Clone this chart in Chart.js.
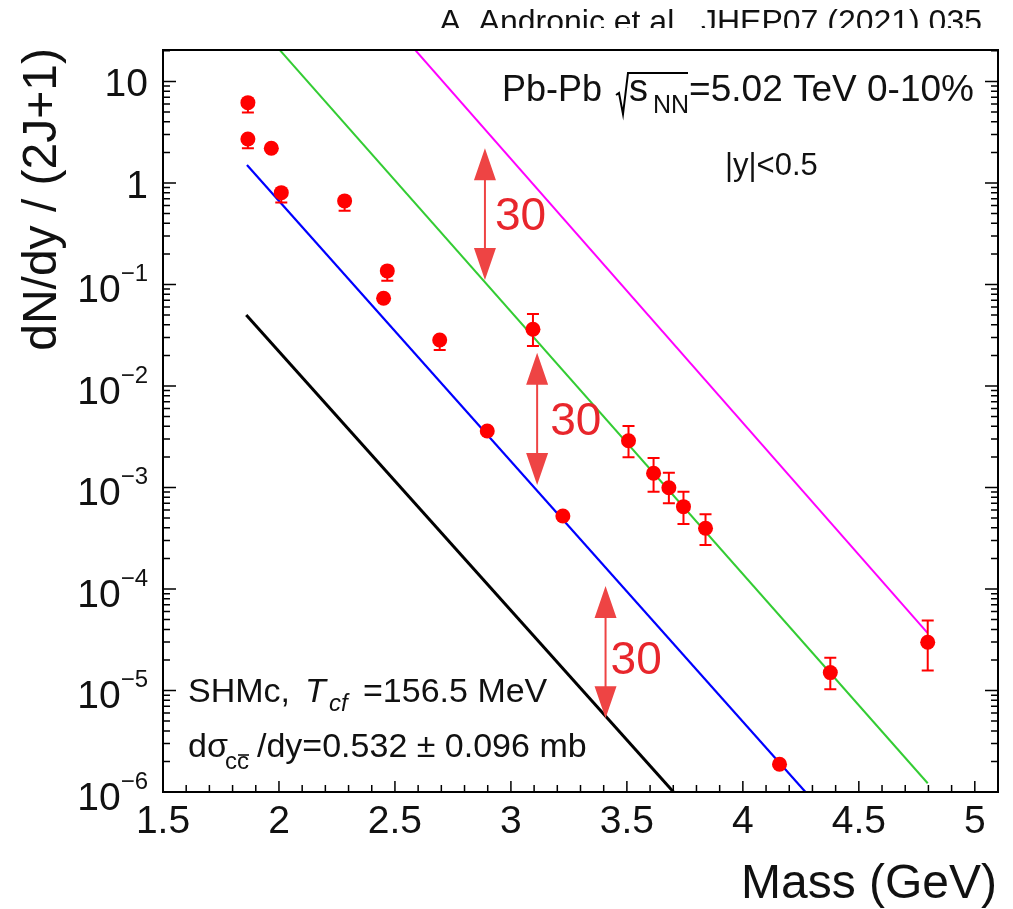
<!DOCTYPE html>
<html>
<head>
<meta charset="utf-8">
<title>Charm hadron yields, Pb-Pb 5.02 TeV</title>
<script src="https://cdn.jsdelivr.net/npm/chart.js@4/dist/chart.umd.min.js"></script>
<style>
  html, body { margin: 0; padding: 0; background: #fff; }
  canvas { display: block; }
</style>
</head>
<body>
<canvas id="yieldChart" width="1013" height="909"></canvas>
<script>
// measured yields per spin state, Pb-Pb 0-10%, |y|<0.5
const hadronMass  = [1.866, 1.866, 1.967, 2.010, 2.283, 2.467, 2.451, 2.693, 3.095, 2.898,
                     3.224, 3.507, 3.615, 3.681, 3.744, 3.839, 4.158, 4.377, 4.797];
const hadronYield = [6.18, 2.71, 2.20, 0.802, 0.665, 0.136, 0.0731, 0.0284, 0.0362, 0.00360,
                     5.24e-4, 2.89e-3, 1.38e-3, 9.95e-4, 6.47e-4, 3.96e-4, 1.875e-6, 1.50e-5, 2.99e-5];
const yieldLow    = [4.93, 2.20, null, 0.640, 0.533, 0.109, null, 0.0226, 0.0248, null,
                     null, 1.99e-3, 9.1e-4, 6.98e-4, 4.37e-4, 2.71e-4, null, 1.03e-5, 1.57e-5];
const yieldHigh   = [6.18, 2.71, null, 0.802, 0.665, 0.136, null, 0.0284, 0.0512, null,
                     null, 4.04e-3, 1.95e-3, 1.40e-3, 9.1e-4, 5.45e-4, null, 2.10e-5, 4.88e-5];

// SHMc curves, straight lines in log scale (start / end)
const blackMass = [1.859, 3.701];
const blackYield = [0.0501, 1.0e-6];
const blueMass = [1.862, 4.270];
const blueYield = [1.50, 1.0e-6];
const greenMass = [1.860, 4.797];
const greenYield = [47.9, 1.22e-6];
const magentaMass = [2.550, 4.795];
const magentaYield = [25.5, 3.72e-5];

// factor 30 arrows between the curves
const arrowMass = [2.888, 3.113, 3.408];
const arrowTop = [2.20, 0.0213, 1.07e-4];
const arrowBottom = [0.1106, 1.06e-3, 5.32e-6];
const arrowText = ['30', '30', '30'];

// axis ticks and labels
const xTicks = [1.5, 2, 2.5, 3, 3.5, 4, 4.5, 5];
const xTickLabels = ['1.5', '2', '2.5', '3', '3.5', '4', '4.5', '5'];
const yTicks = [1e-6, 1e-5, 1e-4, 1e-3, 1e-2, 1e-1, 1, 10];
const yTickBase = ['10', '10', '10', '10', '10', '10', '1', '10'];
const yTickSup = ['\u22126', '\u22125', '\u22124', '\u22123', '\u22122', '\u22121', '', ''];

const FONT = '"Liberation Sans", Arial, Helvetica, sans-serif';

function toPoints(xs, ys) {
  return xs.map(function (x, i) { return { x: x, y: ys[i] }; });
}

function curve(label, xs, ys, color, width) {
  return {
    label: label,
    data: toPoints(xs, ys),
    showLine: true,
    borderColor: color,
    borderWidth: width,
    pointRadius: 0,
    fill: false,
  };
}

// error bars under the markers
const errorBars = {
  id: 'errorBars',
  beforeDatasetDraw(chart, args) {
    if (args.index !== 0) return;
    const ctx = chart.ctx;
    const y = chart.scales.y;
    const meta = chart.getDatasetMeta(0);
    ctx.save();
    ctx.strokeStyle = '#ff0000';
    ctx.lineWidth = 2;
    meta.data.forEach(function (pt, i) {
      if (yieldLow[i] == null) return;
      const y0 = y.getPixelForValue(yieldLow[i]);
      const y1 = y.getPixelForValue(yieldHigh[i]);
      ctx.beginPath();
      ctx.moveTo(pt.x, y0); ctx.lineTo(pt.x, y1);
      ctx.moveTo(pt.x - 6, y0); ctx.lineTo(pt.x + 6, y0);
      ctx.moveTo(pt.x - 6, y1); ctx.lineTo(pt.x + 6, y1);
      ctx.stroke();
    });
    ctx.restore();
  }
};

// ROOT style frame, inner ticks, labels and annotations
const decorations = {
  id: 'decorations',
  afterDraw(chart) {
    const ctx = chart.ctx;
    const a = chart.chartArea;
    const x = chart.scales.x;
    const y = chart.scales.y;
    ctx.save();

    // arrows
    const textShift = [[10, 16], [13, 16], [5, 22]];
    arrowMass.forEach(function (m, i) {
      const px = x.getPixelForValue(m);
      const yt = y.getPixelForValue(arrowTop[i]);
      const yb = y.getPixelForValue(arrowBottom[i]);
      ctx.strokeStyle = '#ee4444';
      ctx.fillStyle = '#ee4444';
      ctx.lineWidth = 2;
      ctx.beginPath();
      ctx.moveTo(px, yt + 30); ctx.lineTo(px, yb - 30);
      ctx.stroke();
      ctx.beginPath();
      ctx.moveTo(px, yt); ctx.lineTo(px - 11, yt + 32); ctx.lineTo(px + 11, yt + 32); ctx.closePath();
      ctx.moveTo(px, yb); ctx.lineTo(px - 11, yb - 32); ctx.lineTo(px + 11, yb - 32); ctx.closePath();
      ctx.fill();
      ctx.fillStyle = '#e8262c';
      ctx.font = '46px ' + FONT;
      ctx.textAlign = 'left';
      ctx.textBaseline = 'alphabetic';
      ctx.fillText(arrowText[i], px + textShift[i][0], (yt + yb) / 2 + textShift[i][1]);
    });

    // frame
    ctx.strokeStyle = '#000';
    ctx.lineWidth = 2;
    ctx.strokeRect(a.left, a.top, a.right - a.left, a.bottom - a.top);

    // ticks
    ctx.lineWidth = 1.5;
    ctx.beginPath();
    for (let k = 15; k <= 51; k++) {
      const px = x.getPixelForValue(k / 10);
      const len = k % 5 === 0 ? 11 : 7;
      ctx.moveTo(px, a.bottom); ctx.lineTo(px, a.bottom - len);
    }
    yTicks.forEach(function (d) {
      for (let k = 1; k <= 9; k++) {
        const v = d * k;
        if (v > y.max) break;
        const py = y.getPixelForValue(v);
        const len = k === 1 ? 13 : 7;
        ctx.moveTo(a.left, py); ctx.lineTo(a.left + len, py);
        ctx.moveTo(a.right, py); ctx.lineTo(a.right - len, py);
      }
    });
    ctx.stroke();

    ctx.fillStyle = '#111';
    ctx.textBaseline = 'alphabetic';

    // x tick labels
    ctx.font = '39px ' + FONT;
    ctx.textAlign = 'center';
    xTicks.forEach(function (v, i) {
      ctx.fillText(xTickLabels[i], x.getPixelForValue(v), 833);
    });

    // y tick labels
    const labelRight = a.left - 15;
    yTicks.forEach(function (v, i) {
      const py = y.getPixelForValue(v);
      if (yTickSup[i]) {
        ctx.font = '24px ' + FONT;
        const supW = ctx.measureText(yTickSup[i]).width;
        ctx.textAlign = 'left';
        ctx.fillText(yTickSup[i], labelRight - supW, py - 3);
        ctx.font = '39px ' + FONT;
        ctx.textAlign = 'right';
        ctx.fillText(yTickBase[i], labelRight - supW, py + 18);
      } else {
        ctx.font = '39px ' + FONT;
        ctx.textAlign = 'right';
        ctx.fillText(yTickBase[i], labelRight, py + 15);
      }
    });

    // axis titles
    ctx.font = '48px ' + FONT;
    ctx.textAlign = 'right';
    ctx.fillText('Mass (GeV)', 997, 898);
    ctx.save();
    ctx.translate(56, 48);
    ctx.rotate(-Math.PI / 2);
    ctx.font = '48px ' + FONT;
    ctx.textAlign = 'right';
    ctx.fillText('dN/dy / (2J+1)', 0, 0);
    ctx.restore();

    // reference line, cut at the top of the page
    ctx.save();
    ctx.beginPath();
    ctx.rect(0, 0, chart.width, 28);
    ctx.clip();
    ctx.font = '32px ' + FONT;
    ctx.textAlign = 'right';
    ctx.fillText('A. Andronic et al.. JHEP07 (2021) 035', 982, 32);
    ctx.restore();

    // collision system
    ctx.font = '36px ' + FONT;
    ctx.textAlign = 'left';
    ctx.fillText('Pb-Pb', 502, 101);
    ctx.lineWidth = 2;
    ctx.beginPath();
    ctx.moveTo(616, 95); ctx.lineTo(619, 93); ctx.lineTo(623, 114); ctx.lineTo(628, 73); ctx.lineTo(688, 73);
    ctx.stroke();
    ctx.font = '38px ' + FONT;
    ctx.fillText('s', 629, 101);
    ctx.font = '25px ' + FONT;
    ctx.fillText('NN', 653, 113);
    ctx.font = '37px ' + FONT;
    ctx.textAlign = 'right';
    ctx.fillText('=5.02 TeV 0-10%', 974, 101);
    ctx.font = '31px ' + FONT;
    ctx.textAlign = 'left';
    ctx.fillText('|y|<0.5', 725, 175);

    // model parameters
    ctx.font = '34px ' + FONT;
    ctx.fillText('SHMc,', 188, 702);
    ctx.font = 'italic 34px ' + FONT;
    ctx.fillText('T', 305, 702);
    ctx.font = 'italic 24px ' + FONT;
    ctx.fillText('cf', 329, 711);
    ctx.font = '34px ' + FONT;
    ctx.fillText('=156.5 MeV', 363, 702);

    ctx.fillText('d\u03c3', 188, 757);
    ctx.font = '24px ' + FONT;
    ctx.fillText('cc', 225, 769);
    const cW = ctx.measureText('c').width;
    ctx.lineWidth = 1.5;
    ctx.beginPath();
    ctx.moveTo(225 + cW + 1, 755); ctx.lineTo(225 + 2 * cW, 755);
    ctx.stroke();
    ctx.font = '34px ' + FONT;
    ctx.fillText('/dy=0.532 \u00b1 0.096 mb', 257, 757);

    ctx.restore();
  }
};

const ctx = document.getElementById('yieldChart').getContext('2d');

new Chart(ctx, {
  type: 'scatter',
  data: {
    datasets: [
      {
        label: 'data',
        data: toPoints(hadronMass, hadronYield),
        pointRadius: 7.5,
        pointBackgroundColor: '#ff0000',
        pointBorderWidth: 0,
        showLine: false,
      },
      curve('SHMc x30', magentaMass, magentaYield, '#ff00ff', 2),
      curve('SHMc x30', greenMass, greenYield, '#33cc33', 2),
      curve('SHMc', blueMass, blueYield, '#0000ff', 2.2),
      curve('SHMc /30', blackMass, blackYield, '#000000', 3),
    ],
  },
  options: {
    responsive: false,
    animation: false,
    layout: { padding: { left: 163, top: 50, right: 15, bottom: 117 } },
    plugins: {
      legend: { display: false },
      tooltip: { enabled: false },
    },
    scales: {
      x: { type: 'linear', min: 1.5, max: 5.1, display: false },
      y: { type: 'logarithmic', min: 1e-6, max: 20.4, display: false },
    },
  },
  plugins: [errorBars, decorations],
});
</script>
</body>
</html>
